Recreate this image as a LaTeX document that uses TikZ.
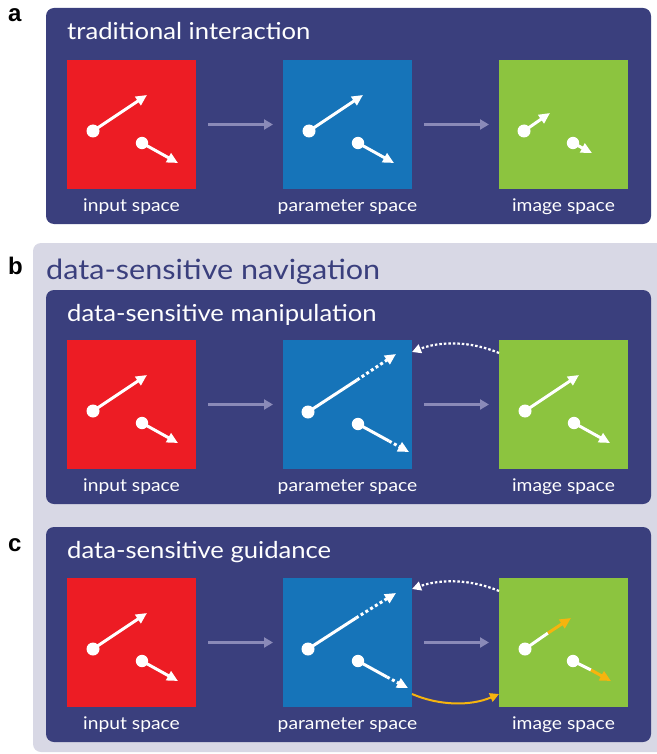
\documentclass[tikz,border=0pt]{standalone}
\usepackage{fontspec}
\setmainfont{Lato}[FakeStretch=1.1]
\newfontfamily\letterfont{Liberation Sans}
\usetikzlibrary{arrows.meta,calc}
\definecolor{panel}{HTML}{3A3F7D}
\definecolor{navbg}{HTML}{D8D8E5}
\definecolor{sqred}{HTML}{ED1C24}
\definecolor{sqblue}{HTML}{1674B9}
\definecolor{sqgreen}{HTML}{8CC43F}
\definecolor{flowgray}{HTML}{8A8AB8}
\definecolor{guide}{HTML}{F6B40E}
\begin{document}
\begin{tikzpicture}[x=1pt,y=-1pt,
  panelbox/.style={fill=panel,rounded corners=8pt,anchor=north west,inner sep=0pt,outer sep=0pt},
  sq/.style={minimum size=129pt,inner sep=0pt,outer sep=0pt,anchor=north west},
  lbl/.style={anchor=base,text=white,font=\fontsize{17.5}{19}\selectfont,inner sep=0pt},
  ttl/.style={anchor=base west,text=white,font=\fontsize{23.3}{25}\selectfont,inner sep=0pt},
  letter/.style={anchor=base west,text=black,font=\letterfont\bfseries\fontsize{24}{26}\selectfont,inner sep=0pt},
  flow/.style={draw=flowgray,line width=3pt,shorten <=12pt,shorten >=10pt,-{Triangle[length=9pt,width=10pt]}},
  vec/.style={draw=white,line width=3pt,-{Triangle[length=11pt,width=10pt]}},
  vecline/.style={draw=white,line width=3pt},
  vecdots/.style={draw=white,line width=3pt,dash pattern=on 3pt off 2.6pt,-{Triangle[length=11pt,width=10pt]}},
  vecyellow/.style={draw=guide,line width=3pt,-{Triangle[length=11pt,width=10pt]}},
  backflow/.style={draw=white,line width=2.2pt,dash pattern=on 2.5pt off 2pt,-{Triangle[length=9pt,width=9pt]}},
  guideflow/.style={draw=guide,line width=2pt,-{Triangle[length=9pt,width=9pt]}}
]
\useasboundingbox (0,0) rectangle (656,754);
% navigation background
\fill[navbg,rounded corners=8pt] (33,243) rectangle (670,752);
% panel boxes
\node[panelbox,minimum width=605pt,minimum height=216pt] (pa) at (46,8) {};
\node[panelbox,minimum width=605pt,minimum height=214pt] (pb) at (46,290) {};
\node[panelbox,minimum width=605pt,minimum height=215pt] (pc) at (46,527) {};
% letters and titles
\node[letter] (la) at (8,22) {a};
\node[letter] (lb) at (8,274) {b};
\node[letter] (lc) at (8,551) {c};
\node[ttl] (ta) at (67,40) {traditional interaction};
\node[ttl,text=panel,font=\fontsize{27.8}{29}\selectfont] (tn) at (46,279) {data-sensitive navigation};
\node[ttl] (tb) at (67,321) {data-sensitive manipulation};
\node[ttl] (tc) at (67,558) {data-sensitive guidance};
% squares
\foreach \r/\y in {a/60,b/340,c/578}{
  \node[sq,fill=sqred] (\r1) at (67,\y) {};
  \node[sq,fill=sqblue] (\r2) at (283,\y) {};
  \node[sq,fill=sqgreen] (\r3) at (499,\y) {};
  \node[lbl] (\r1l) at ($(\r1.south)+(0,22)$) {input space};
  \node[lbl] (\r2l) at ($(\r2.south)+(0,22)$) {parameter space};
  \node[lbl] (\r3l) at ($(\r3.south)+(0,22)$) {image space};
  \draw[flow] (\r1) -- (\r2);
  \draw[flow] (\r2) -- (\r3);
}
% standard vector pairs
\foreach \n in {a1,a2,b1,b3,c1}{
  \begin{scope}[shift={(\n.north west)}]
    \fill[white] (26,71) circle (6.5);
    \draw[vec] (26,71) -- (80,35);
    \fill[white] (75,83) circle (6.2);
    \draw[vec] (75,83) -- (111,103);
  \end{scope}
}
% panel a image space: short vectors
\begin{scope}[shift={(a3.north west)}]
  \fill[white] (25,71) circle (6.5);
  \draw[vec] (25,71) -- (51,53);
  \fill[white] (74,83) circle (6.2);
  \draw[vec] (74,83) -- (93,93);
\end{scope}
% panel b parameter space: extended dotted vectors
\begin{scope}[shift={(b2.north west)}]
  \fill[white] (25,72) circle (6.5);
  \draw[vecline] (25,72) -- (74,40);
  \draw[vecdots] (74,40) -- (113,14);
  \fill[white] (75,84) circle (6.2);
  \draw[vecline] (75,84) -- (106,101);
  \draw[vecdots] (106,101) -- (126,112);
\end{scope}
% panel c parameter space
\begin{scope}[shift={(c2.north west)}]
  \fill[white] (25,71) circle (6.5);
  \draw[vecline] (25,71) -- (73,40);
  \draw[vecdots] (73,40) -- (113,15);
  \fill[white] (75,83) circle (6.2);
  \draw[vecline] (75,83) -- (104,99);
  \draw[vecdots] (104,99) -- (125,110);
\end{scope}
% panel c image space: white + yellow guidance
\begin{scope}[shift={(c3.north west)}]
  \fill[white] (26,71) circle (6.5);
  \draw[vecline] (26,71) -- (49,55);
  \draw[vecyellow] (49,55) -- (72,40);
  \fill[white] (74,83) circle (6.2);
  \draw[vecline] (74,83) -- (92,92);
  \draw[vecyellow] (92,92) -- (112,103);
\end{scope}
% back-flow dotted curves
\draw[backflow] ($(b3.north west)+(0,13)$) .. controls +(-28,-12) and +(28,-11) .. ($(b2.north east)+(0,12)$);
\draw[backflow] ($(c3.north west)+(0,13)$) .. controls +(-28,-12) and +(28,-10) .. ($(c2.north east)+(0,11)$);
% guidance curve
\draw[guideflow] ($(c2.south east)+(0,-13)$) .. controls +(28,12) and +(-28,12) .. ($(c3.south west)+(0,-13)$);
\end{tikzpicture}
\end{document}
